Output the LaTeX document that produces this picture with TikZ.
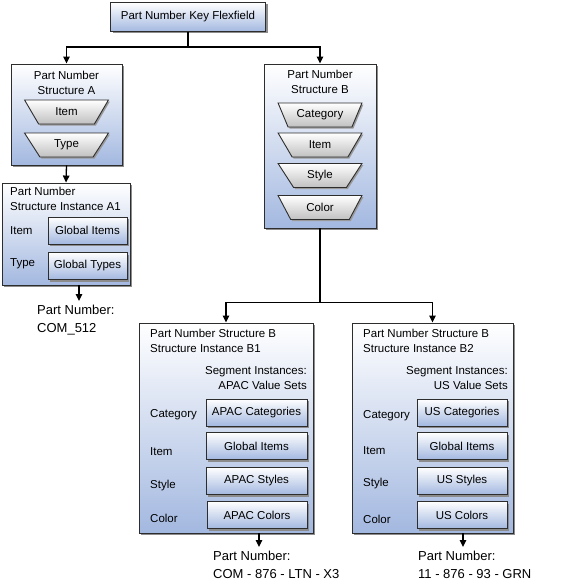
\documentclass[tikz,border=0pt]{standalone}
\usepackage{fontspec}
\setmainfont{Liberation Sans}
\usepackage{xcolor}
\usetikzlibrary{shapes,positioning,arrows.meta,shadows}
\definecolor{flexblue}{RGB}{163,184,224}
\definecolor{seggrey}{RGB}{192,192,192}
\definecolor{edgegrey}{RGB}{45,45,45}
\tikzset{box/.style={draw=edgegrey,line width=0.9pt,top color=white,bottom color=flexblue,inner sep=0pt,drop shadow={shadow xshift=2pt,shadow yshift=-2pt,fill=black!45,opacity=1},font=\fontsize{11.5}{15}\selectfont}}
\tikzset{seg/.style={trapezium,trapezium stretches=true,trapezium left angle=125,trapezium right angle=125,draw=edgegrey,line width=0.9pt,top color=white,bottom color=seggrey,minimum width=84pt,minimum height=24pt,inner sep=0pt,drop shadow={shadow xshift=1.5pt,shadow yshift=-1.5pt,fill=black!40,opacity=1},font=\fontsize{11.5}{15}\selectfont}}
\tikzset{val/.style={box,minimum height=27pt}}
\tikzset{lbl/.style={inner sep=0pt,font=\fontsize{11.5}{15}\selectfont}}
\tikzset{pn/.style={inner sep=0pt,align=left,anchor=north west,font=\fontsize{13}{17.5}\selectfont}}
\tikzset{flow/.style={line width=1.3pt,-{Triangle[length=7pt,width=6.5pt]}}}

\begin{document}
\begin{tikzpicture}[x=1pt,y=-1pt]
        \useasboundingbox (0,0) rectangle (574,586);
        % flexfield and structures
        \node[box,minimum width=155pt,minimum height=29pt] (key) at (188,17) {Part Number Key Flexfield};
        \node[box,minimum width=111pt,minimum height=101pt] (sa) at (66.5,114.5) {};
        \node[box,minimum width=112pt,minimum height=164pt] (sb) at (320,146) {};
        \node[lbl,align=center] (sat) at (66.5,82.5) {Part Number\\Structure A};
        \node[lbl,align=center] (sbt) at (320,81.5) {Part Number\\Structure B};
        \node[seg] (saitem) at (66.5,112) {Item};
        \node[seg] (satype) at (66.5,145) {Type};
        \node[seg] (sbcat) at (320,115) {Category};
        \node[seg] (sbitem) at (320,145) {Item};
        \node[seg] (sbstyle) at (320,175.5) {Style};
        \node[seg] (sbcolor) at (320,207.5) {Color};

        % instance A1
        \node[box,minimum width=128pt,minimum height=102pt] (ia) at (66,234) {};
        \node[lbl,align=left,anchor=north west] (iat) at (10,187) {Part Number\\Structure Instance A1};
        \node[lbl,anchor=west] (iaitem) at (10,231) {Item};
        \node[lbl,anchor=west] (iatype) at (10,264) {Type};
        \node[val,minimum width=79pt] (iaitemv) at (87.5,230.5) {Global Items};
        \node[val,minimum width=79pt] (iatypev) at (87.5,266) {Global Types};
        \node[pn] (pna) at (37,305) {Part Number:\\COM\_512};
        \coordinate (pnaend) at (79,301);

        % instance B1
        \node[box,minimum width=174pt,minimum height=210pt] (ib) at (226,428) {};
        \node[lbl,align=left,anchor=north west] (ibt) at (150,329) {Part Number Structure B\\Structure Instance B1};
        \node[lbl,align=right,anchor=north east] (ibs) at (307,366) {Segment Instances:\\APAC Value Sets};
        \node[lbl,anchor=west] (ibcat) at (150,415) {Category};
        \node[lbl,anchor=west] (ibitem) at (150,452) {Item};
        \node[lbl,anchor=west] (ibstyle) at (150,486) {Style};
        \node[lbl,anchor=west] (ibcolor) at (150,518) {Color};
        \node[val,minimum width=101pt] (ibcatv) at (256.5,412.5) {APAC Categories};
        \node[val,minimum width=101pt] (ibitemv) at (256.5,446) {Global Items};
        \node[val,minimum width=101pt] (ibstylev) at (256.5,481) {APAC Styles};
        \node[val,minimum width=100pt] (ibcolorv) at (257,515) {APAC Colors};
        \node[pn] (pnb) at (213,551) {Part Number:\\COM - 876 - LTN - X3};
        \coordinate (pnbend) at (259,547);

        % instance B2
        \node[box,minimum width=161pt,minimum height=210pt] (ic) at (432.5,428) {};
        \node[lbl,align=left,anchor=north west] (ict) at (363,329) {Part Number Structure B\\Structure Instance B2};
        \node[lbl,align=right,anchor=north east] (ics) at (508,366) {Segment Instances:\\US Value Sets};
        \node[lbl,anchor=west] (iccat) at (363,416) {Category};
        \node[lbl,anchor=west] (icitem) at (363,451) {Item};
        \node[lbl,anchor=west] (icstyle) at (363,484) {Style};
        \node[lbl,anchor=west] (iccolor) at (363,519) {Color};
        \node[val,minimum width=90pt] (iccatv) at (462,412.5) {US Categories};
        \node[val,minimum width=90pt] (icitemv) at (462,446) {Global Items};
        \node[val,minimum width=90pt] (icstylev) at (462,481) {US Styles};
        \node[val,minimum width=90pt] (iccolorv) at (462,515) {US Colors};
        \node[pn] (pnc) at (418,551) {Part Number:\\11 - 876 - 93 - GRN};
        \coordinate (pncend) at (463,547);

        \draw [flow] (key.south) -- ++(0,15) -| (sa.north);
        \draw [flow] (key.south) -- ++(0,15) -| (sb.north);
        \draw [flow] (sa.south) -- (ia.north);
        \draw [flow] (ia.south -| pnaend) -- (pnaend);
        \draw [flow] (sb.south) -- ++(0,74) -| (ib.north);
        \draw [flow] (sb.south) -- ++(0,74) -| (ic.north);
        \draw [flow] (ib.south -| pnbend) -- (pnbend);
        \draw [flow] (ic.south -| pncend) -- (pncend);
    \end{tikzpicture}
\end{document}
